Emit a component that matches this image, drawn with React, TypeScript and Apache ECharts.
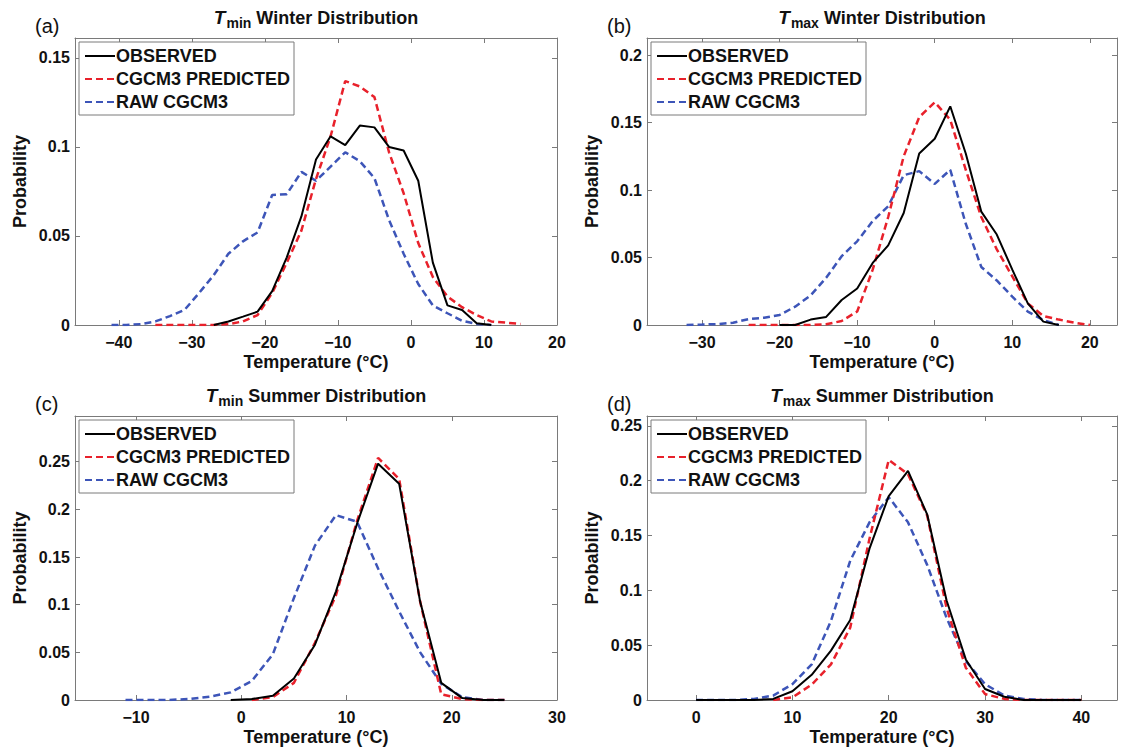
import React, { useEffect, useRef } from "react";
import * as echarts from "echarts";

// ---------- DATA ----------
const seriesNames = ["OBSERVED", "CGCM3 PREDICTED", "RAW CGCM3"];

// (a) Tmin winter
const aTemps = [-41, -39, -37, -35, -33, -31, -29, -27, -25, -23, -21, -19, -17, -15, -13, -11, -9, -7, -5, -3, -1, 1, 3, 5, 7, 9, 11, 13, 15];
const aObserved = [null, null, null, null, null, null, null, 0, 0.002, 0.0047, 0.0075, 0.019, 0.038, 0.061, 0.093, 0.106, 0.101, 0.112, 0.111, 0.1, 0.098, 0.081, 0.035, 0.011, 0.0084, 0.001, 0, null, null];
const aPredicted = [null, null, null, 0, 0, 0, 0, 0, 0.0005, 0.002, 0.0056, 0.018, 0.035, 0.053, 0.082, 0.106, 0.137, 0.134, 0.128, 0.097, 0.074, 0.046, 0.027, 0.016, 0.01, 0.0056, 0.002, 0.0013, 0.0006];
const aRaw = [0, 0, 0.0005, 0.002, 0.005, 0.0085, 0.018, 0.028, 0.04, 0.047, 0.052, 0.073, 0.0735, 0.086, 0.081, 0.089, 0.097, 0.092, 0.0825, 0.059, 0.04, 0.023, 0.011, 0.0066, 0.0024, 0.0006, 0, null, null];
const aXTicks = [-40, -30, -20, -10, 0, 10, 20];
const aYTicks = [0, 0.05, 0.1, 0.15];

// (b) Tmax winter
const bTemps = [-32, -30, -28, -26, -24, -22, -20, -18, -16, -14, -12, -10, -8, -6, -4, -2, 0, 2, 4, 6, 8, 10, 12, 14, 16, 18, 20];
const bObserved = [null, null, null, null, null, null, 0, 0, 0.004, 0.006, 0.0185, 0.027, 0.046, 0.059, 0.083, 0.127, 0.138, 0.162, 0.127, 0.084, 0.067, 0.041, 0.016, 0.0025, 0, null, null];
const bPredicted = [null, null, null, null, 0, 0, 0, 0, 0, 0.0005, 0.003, 0.01, 0.041, 0.08, 0.125, 0.154, 0.165, 0.152, 0.115, 0.08, 0.056, 0.036, 0.016, 0.0067, 0.004, 0.0017, 0];
const bRaw = [0, 0.0003, 0.0007, 0.0017, 0.0044, 0.0054, 0.0074, 0.0136, 0.022, 0.035, 0.051, 0.062, 0.077, 0.088, 0.111, 0.114, 0.1045, 0.115, 0.075, 0.043, 0.033, 0.021, 0.0099, 0.0037, 0, null, null];
const bXTicks = [-30, -20, -10, 0, 10, 20];
const bYTicks = [0, 0.05, 0.1, 0.15, 0.2];

// (c) Tmin summer
const cTemps = [-11, -9, -7, -5, -3, -1, 1, 3, 5, 7, 9, 11, 13, 15, 17, 19, 21, 23, 25];
const cObserved = [null, null, null, null, null, 0, 0.001, 0.0045, 0.0226, 0.058, 0.114, 0.185, 0.248, 0.227, 0.103, 0.018, 0.002, 0, 0];
const cPredicted = [null, null, null, null, null, null, 0, 0.003, 0.018, 0.06, 0.11, 0.188, 0.254, 0.232, 0.103, 0.006, 0.001, 0, 0];
const cRaw = [0, 0, 0, 0.001, 0.0035, 0.008, 0.02, 0.048, 0.107, 0.162, 0.194, 0.187, 0.138, 0.093, 0.05, 0.017, 0.003, 0, 0];
const cXTicks = [-10, 0, 10, 20, 30];
const cYTicks = [0, 0.05, 0.1, 0.15, 0.2, 0.25];

// (d) Tmax summer
const dTemps = [0, 2, 4, 6, 8, 10, 12, 14, 16, 18, 20, 22, 24, 26, 28, 30, 32, 34, 36, 38, 40];
const dObserved = [0, 0, 0, 0, 0.001, 0.008, 0.023, 0.045, 0.073, 0.138, 0.186, 0.209, 0.169, 0.091, 0.037, 0.01, 0.003, 0, 0, 0, 0];
const dPredicted = [null, null, null, null, 0, 0.0024, 0.014, 0.0325, 0.066, 0.147, 0.219, 0.206, 0.168, 0.084, 0.0295, 0.0054, 0.001, 0, 0, 0, 0];
const dRaw = [0, 0, 0, 0.001, 0.004, 0.0145, 0.0325, 0.072, 0.127, 0.162, 0.185, 0.162, 0.123, 0.075, 0.0355, 0.0145, 0.004, 0.001, 0, 0, 0];
const dXTicks = [0, 10, 20, 30, 40];
const dYTicks = [0, 0.05, 0.1, 0.15, 0.2, 0.25];

// ---------- STYLE / LAYOUT ----------
const FONT = '"Liberation Sans", Arial, Helvetica, sans-serif';
const AXIS_GRAY = "#7a7a7a";
const COLORS = ["#000000", "#e8212b", "#3d55b8"];

type Panel = {
  tag: string;
  sub: string;
  season: string;
  temps: number[];
  values: (number | null)[][];
  xTicks: number[];
  yTicks: number[];
  xMin: number;
  xMax: number;
  yMax: number;
  box: { left: number; top: number; width: number; height: number };
};

const panels: Panel[] = [
  { tag: "(a)", sub: "min", season: "Winter", temps: aTemps, values: [aObserved, aPredicted, aRaw], xTicks: aXTicks, yTicks: aYTicks, xMin: -46, xMax: 20, yMax: 0.1612, box: { left: 75, top: 38, width: 482, height: 287 } },
  { tag: "(b)", sub: "max", season: "Winter", temps: bTemps, values: [bObserved, bPredicted, bRaw], xTicks: bXTicks, yTicks: bYTicks, xMin: -37.1, xMax: 23.5, yMax: 0.2126, box: { left: 647, top: 38, width: 470, height: 287 } },
  { tag: "(c)", sub: "min", season: "Summer", temps: cTemps, values: [cObserved, cPredicted, cRaw], xTicks: cXTicks, yTicks: cYTicks, xMin: -15.8, xMax: 30, yMax: 0.298, box: { left: 75, top: 416, width: 482, height: 287 } },
  { tag: "(d)", sub: "max", season: "Summer", temps: dTemps, values: [dObserved, dPredicted, dRaw], xTicks: dXTicks, yTicks: dYTicks, xMin: -5.1, xMax: 43.7, yMax: 0.259, box: { left: 647, top: 416, width: 470, height: 287 } },
];

const fmtX = (v: number) => (v < 0 ? "\u2212" + Math.abs(v) : String(v));
const fmtY = (v: number) => String(+Number(v).toFixed(3));

function buildOption() {
  const grid: any[] = [];
  const xAxis: any[] = [];
  const yAxis: any[] = [];
  const series: any[] = [];
  const legend: any[] = [];
  const title: any[] = [];

  panels.forEach((p, i) => {
    grid.push({ ...p.box, show: false, containLabel: false });
    const tickStyle = { show: true, inside: true, length: 5, lineStyle: { color: AXIS_GRAY, width: 1 } };
    const lineStyle = { show: true, onZero: false, lineStyle: { color: AXIS_GRAY, width: 1 } };
    xAxis.push({
      type: "value", gridIndex: i, position: "bottom", min: p.xMin, max: p.xMax,
      axisLine: lineStyle,
      axisTick: { ...tickStyle, customValues: p.xTicks },
      axisLabel: { customValues: p.xTicks, formatter: fmtX, color: "#111", fontFamily: FONT, fontWeight: "bold", fontSize: 16, margin: 9 },
      splitLine: { show: false },
      name: "Temperature (\u00B0C)", nameLocation: "middle", nameGap: 28,
      nameTextStyle: { color: "#111", fontFamily: FONT, fontWeight: "bold", fontSize: 18 },
    });
    xAxis.push({
      type: "value", gridIndex: i, position: "top", min: p.xMin, max: p.xMax,
      axisLine: lineStyle,
      axisTick: { ...tickStyle, customValues: p.xTicks },
      axisLabel: { show: false },
      splitLine: { show: false },
    });
    yAxis.push({
      type: "value", gridIndex: i, position: "left", min: 0, max: p.yMax,
      axisLine: lineStyle,
      axisTick: { ...tickStyle, customValues: p.yTicks },
      axisLabel: { customValues: p.yTicks, formatter: fmtY, color: "#111", fontFamily: FONT, fontWeight: "bold", fontSize: 16, margin: 5 },
      splitLine: { show: false },
      name: "Probability", nameLocation: "middle", nameGap: 46,
      nameTextStyle: { color: "#111", fontFamily: FONT, fontWeight: "bold", fontSize: 18 },
    });
    yAxis.push({
      type: "value", gridIndex: i, position: "right", min: 0, max: p.yMax,
      axisLine: lineStyle,
      axisTick: { ...tickStyle, customValues: p.yTicks },
      axisLabel: { show: false },
      splitLine: { show: false },
    });

    seriesNames.forEach((name, k) => {
      series.push({
        type: "line", name, xAxisIndex: 2 * i, yAxisIndex: 2 * i,
        data: p.temps.map((t, j) => [t, p.values[k][j]]),
        symbol: "none", showSymbol: false, connectNulls: false,
        z: 10 - k,
        color: COLORS[k],
        lineStyle: k === 0 ? { color: COLORS[k], width: 2, type: "solid" } : { color: COLORS[k], width: 2.5, type: [7, 4] },
      });
    });

    legend.push({
      orient: "vertical", left: p.box.left + 4, top: p.box.top + 4,
      data: seriesNames, itemWidth: 30, itemHeight: 12, itemGap: 5,
      backgroundColor: "#fff", borderColor: AXIS_GRAY, borderWidth: 1,
      padding: [5, 4, 4, 5],
      selectedMode: false,
      itemStyle: { opacity: 0 },
      textStyle: { color: "#111", fontFamily: FONT, fontWeight: "bold", fontSize: 18, padding: [0, 0, 0, -4] },
    });

    title.push({
      text: `{t|T}{s|${p.sub}}{r| ${p.season} Distribution}`,
      left: p.box.left + p.box.width / 2, top: p.box.top - 33, textAlign: "center", padding: 0,
      textStyle: {
        rich: {
          t: { fontFamily: FONT, fontStyle: "italic", fontWeight: "bold", fontSize: 19, color: "#111" },
          s: { fontFamily: FONT, fontWeight: "bold", fontSize: 14, color: "#111", padding: [11, 0, 0, 1] },
          r: { fontFamily: FONT, fontWeight: "bold", fontSize: 18, color: "#111" },
        },
      },
    });
    title.push({
      text: p.tag, left: p.box.left - 40, top: p.box.top - 22, padding: 0,
      textStyle: { fontFamily: FONT, fontWeight: "normal", fontSize: 20, color: "#111" },
    });
  });

  return { animation: false, backgroundColor: "#ffffff", grid, xAxis, yAxis, series, legend, title };
}

export default function App() {
  const ref = useRef<HTMLDivElement>(null);
  useEffect(() => {
    if (!ref.current) return;
    const chart = echarts.init(ref.current, undefined, { renderer: "svg" });
    chart.setOption(buildOption() as any);
    return () => chart.dispose();
  }, []);
  return <div ref={ref} style={{ position: "absolute", left: 0, top: 0, width: 1124, height: 747, background: "#fff" }} />;
}
